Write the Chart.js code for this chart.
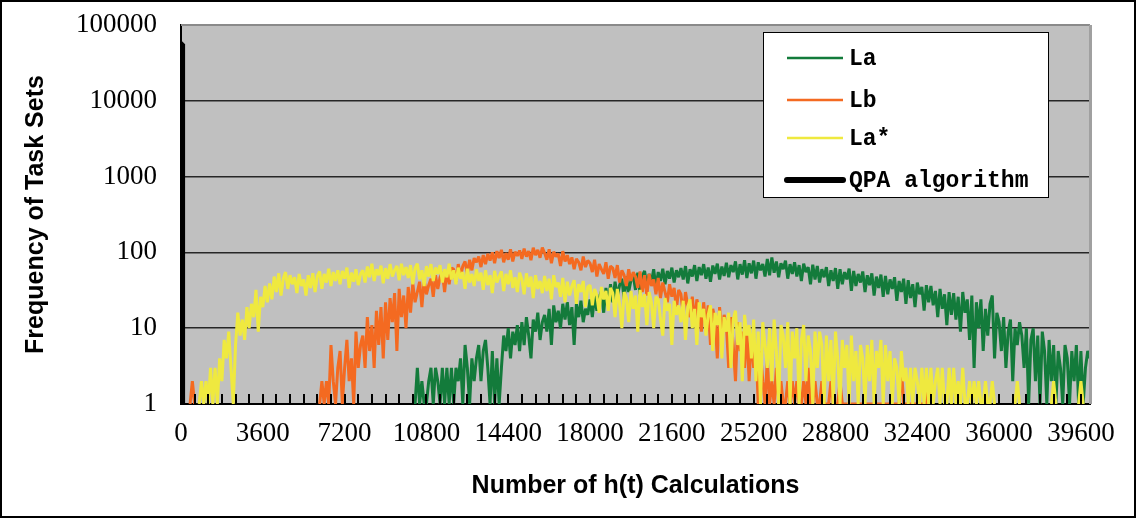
<!DOCTYPE html>
<html>
<head>
<meta charset="utf-8">
<script src="https://cdn.jsdelivr.net/npm/chart.js@4.4.0/dist/chart.umd.min.js"></script>
<style>
  html, body { margin: 0; padding: 0; background: #fff; }
  canvas { display: block; }
</style>
</head>
<body>
<canvas id="grafica_ht" width="1137" height="519"></canvas>
<script>
// Number of h(t) calculations (x), one row = 1000 calculations
const calcs = [
  0, 100, 200, 300, 400, 500, 600, 700, 800, 900,
  1000, 1100, 1200, 1300, 1400, 1500, 1600, 1700, 1800, 1900,
  2000, 2100, 2200, 2300, 2400, 2500, 2600, 2700, 2800, 2900,
  3000, 3100, 3200, 3300, 3400, 3500, 3600, 3700, 3800, 3900,
  4000, 4100, 4200, 4300, 4400, 4500, 4600, 4700, 4800, 4900,
  5000, 5100, 5200, 5300, 5400, 5500, 5600, 5700, 5800, 5900,
  6000, 6100, 6200, 6300, 6400, 6500, 6600, 6700, 6800, 6900,
  7000, 7100, 7200, 7300, 7400, 7500, 7600, 7700, 7800, 7900,
  8000, 8100, 8200, 8300, 8400, 8500, 8600, 8700, 8800, 8900,
  9000, 9100, 9200, 9300, 9400, 9500, 9600, 9700, 9800, 9900,
  10000, 10100, 10200, 10300, 10400, 10500, 10600, 10700, 10800, 10900,
  11000, 11100, 11200, 11300, 11400, 11500, 11600, 11700, 11800, 11900,
  12000, 12100, 12200, 12300, 12400, 12500, 12600, 12700, 12800, 12900,
  13000, 13100, 13200, 13300, 13400, 13500, 13600, 13700, 13800, 13900,
  14000, 14100, 14200, 14300, 14400, 14500, 14600, 14700, 14800, 14900,
  15000, 15100, 15200, 15300, 15400, 15500, 15600, 15700, 15800, 15900,
  16000, 16100, 16200, 16300, 16400, 16500, 16600, 16700, 16800, 16900,
  17000, 17100, 17200, 17300, 17400, 17500, 17600, 17700, 17800, 17900,
  18000, 18100, 18200, 18300, 18400, 18500, 18600, 18700, 18800, 18900,
  19000, 19100, 19200, 19300, 19400, 19500, 19600, 19700, 19800, 19900,
  20000, 20100, 20200, 20300, 20400, 20500, 20600, 20700, 20800, 20900,
  21000, 21100, 21200, 21300, 21400, 21500, 21600, 21700, 21800, 21900,
  22000, 22100, 22200, 22300, 22400, 22500, 22600, 22700, 22800, 22900,
  23000, 23100, 23200, 23300, 23400, 23500, 23600, 23700, 23800, 23900,
  24000, 24100, 24200, 24300, 24400, 24500, 24600, 24700, 24800, 24900,
  25000, 25100, 25200, 25300, 25400, 25500, 25600, 25700, 25800, 25900,
  26000, 26100, 26200, 26300, 26400, 26500, 26600, 26700, 26800, 26900,
  27000, 27100, 27200, 27300, 27400, 27500, 27600, 27700, 27800, 27900,
  28000, 28100, 28200, 28300, 28400, 28500, 28600, 28700, 28800, 28900,
  29000, 29100, 29200, 29300, 29400, 29500, 29600, 29700, 29800, 29900,
  30000, 30100, 30200, 30300, 30400, 30500, 30600, 30700, 30800, 30900,
  31000, 31100, 31200, 31300, 31400, 31500, 31600, 31700, 31800, 31900,
  32000, 32100, 32200, 32300, 32400, 32500, 32600, 32700, 32800, 32900,
  33000, 33100, 33200, 33300, 33400, 33500, 33600, 33700, 33800, 33900,
  34000, 34100, 34200, 34300, 34400, 34500, 34600, 34700, 34800, 34900,
  35000, 35100, 35200, 35300, 35400, 35500, 35600, 35700, 35800, 35900,
  36000, 36100, 36200, 36300, 36400, 36500, 36600, 36700, 36800, 36900,
  37000, 37100, 37200, 37300, 37400, 37500, 37600, 37700, 37800, 37900,
  38000, 38100, 38200, 38300, 38400, 38500, 38600, 38700, 38800, 38900,
  39000, 39100, 39200, 39300, 39400, 39500, 39600, 39700, 39800, 39900,
  40000
];

// La
const la = [
  null, null, null, null, null, null, null, null, null, null,
  null, null, null, null, null, null, null, null, null, null,
  null, null, null, null, null, null, null, null, null, null,
  null, null, null, null, null, null, null, null, null, null,
  null, null, null, null, null, null, null, null, null, null,
  null, null, null, null, null, null, null, null, null, null,
  null, null, null, null, null, null, null, null, null, null,
  null, null, null, null, null, null, null, null, null, null,
  null, null, null, null, null, null, null, null, null, null,
  null, null, null, null, null, null, null, null, null, null,
  null, null, null, 1, 3, 1, 2, 1, 1, 2,
  3, 1, 3, 2, 1, 3, 1, 3, 1, 3,
  1, 3, 2, 4, 1, 6, 3, 1, 4, 2,
  4, 6, 2, 5, 7, 3, 1, 5, 1, 4,
  1, 3, 8, 5, 10, 4, 9, 6, 11, 5,
  12, 6, 14, 8, 4, 13, 9, 16, 7, 12,
  15, 9, 18, 6, 20, 12, 17, 10, 21, 13,
  22, 11, 19, 6, 21, 14, 23, 12, 18, 15,
  24, 14, 27, 17, 25, 31, 16, 34, 20, 38,
  22, 41, 26, 37, 45, 24, 48, 30, 43, 50,
  32, 54, 28, 49, 57, 36, 52, 40, 60, 34,
  55, 42, 61, 38, 57, 45, 63, 40, 58, 47,
  62, 44, 66, 39, 60, 48, 68, 42, 64, 50,
  70, 45, 63, 41, 67, 52, 71, 44, 65, 49,
  73, 47, 68, 55, 76, 44, 70, 51, 79, 46,
  72, 53, 78, 45, 74, 58, 70, 48, 82, 50,
  86, 54, 76, 47, 72, 60, 78, 45, 70, 52,
  74, 48, 68, 42, 71, 55, 64, 38, 69, 44,
  66, 40, 60, 47, 64, 36, 58, 42, 62, 33,
  60, 38, 55, 44, 61, 31, 57, 36, 52, 40,
  56, 30, 50, 37, 53, 27, 48, 34, 51, 26,
  49, 28, 44, 33, 47, 23, 42, 30, 45, 21,
  43, 25, 38, 19, 40, 28, 35, 17, 37, 22,
  36, 20, 31, 14, 33, 18, 28, 11, 30, 15,
  29, 13, 26, 9, 30, 16, 24, 7, 27, 3,
  22, 10, 24, 5, 18, 8, 21, 27, 4, 16,
  12, 5, 14, 3, 9, 13, 2, 10, 6, 12,
  8, 3, 10, 1, 7, 10, 2, 8, 1, 9,
  5, 1, 7, 2, 6, 1, 5, 3, 1, 6,
  4, 1, 5, 2, 6, 1, 5, 1, 3, 5,
  4
];

// Lb
const lb = [
  null, null, null, null, 1, 2, 1, null, null, null,
  null, null, null, null, null, null, null, null, null, null,
  null, null, null, null, null, null, null, null, null, null,
  null, null, null, null, null, null, null, null, null, null,
  null, null, null, null, null, null, null, null, null, null,
  null, null, null, null, null, null, null, null, null, null,
  null, 1, 2, 1, 2, 1, 6, 2, 1, 3,
  5, 1, 3, 7, 2, 4, 1, 9, 3, 6,
  8, 3, 14, 5, 11, 3, 17, 6, 19, 4,
  22, 7, 25, 12, 29, 5, 33, 14, 27, 10,
  35, 16, 39, 22, 30, 41, 19, 43, 28, 37,
  45, 26, 50, 33, 47, 55, 30, 58, 38, 62,
  60, 41, 70, 48, 66, 76, 52, 80, 58, 84,
  74, 88, 64, 92, 70, 96, 78, 100, 72, 104,
  84, 108, 74, 98, 80, 110, 76, 102, 90, 106,
  82, 112, 88, 104, 79, 115, 92, 108, 85, 116,
  98, 80, 110, 72, 102, 88, 96, 66, 104, 76,
  92, 70, 86, 60, 82, 74, 58, 88, 64, 78,
  72, 55, 80, 48, 70, 60, 52, 74, 45, 66,
  62, 46, 68, 40, 58, 50, 36, 60, 42, 55,
  48, 34, 56, 30, 50, 27, 52, 36, 44, 28,
  46, 25, 40, 30, 22, 38, 26, 34, 18, 32,
  28, 15, 30, 20, 14, 26, 12, 24, 17, 9,
  22, 10, 20, 6, 18, 13, 4, 19, 8, 15,
  11, 3, 14, 6, 2, 12, 5, 9, 3, 10,
  2, 8, 3, 6, 1, 5, 2, 1, 4, 1,
  2, 1, 3, 1, 2, 1, 1, 2, 1, 2,
  1, 2, 1, 1, 2, 1, 3, 1, 1, 2,
  1, 1, 2, 1, 1, 1, 2, 1, 1, 1,
  2, 1, 1, 1, 1, 1, 1, 1, 1, 1,
  1, 1, 1, 1, 1, 1, 1, 1, 1, 1,
  1, 1, 1, 1, 1, 1, 1, 3, 1, 1,
  1, 1, 1, 1, 1, 1, 1, 1, 1, 2,
  1, null, null, null, null, null, null, null, null, null,
  null, null, null, null, null, null, null, null, null, null,
  null, null, null, null, null, null, null, null, null, null,
  null, null, null, null, null, null, null, null, null, null,
  null, null, null, null, null, null, null, null, null, null,
  null, null, null, null, null, null, null, null, null, null,
  null, null, null, null, null, null, null, null, null, null,
  null
];

// La*
const laStar = [
  null, null, null, null, null, null, null, null, 1, 2,
  1, 2, 1, 3, 1, 3, 1, 4, 2, 7,
  4, 9, 3, 1, 6, 16, 8, 13, 7, 19,
  10, 21, 14, 32, 9, 26, 19, 36, 22, 39,
  24, 48, 30, 53, 27, 45, 55, 33, 50, 38,
  47, 29, 52, 36, 44, 27, 50, 34, 53, 30,
  49, 56, 33, 52, 40, 61, 36, 55, 42, 58,
  38, 57, 45, 63, 34, 54, 41, 60, 37, 52,
  58, 40, 65, 47, 71, 42, 60, 50, 67, 39,
  62, 45, 70, 48, 58, 66, 43, 71, 50, 64,
  46, 68, 38, 62, 71, 44, 58, 36, 66, 48,
  70, 42, 63, 52, 68, 40, 60, 47, 71, 44,
  58, 38, 63, 45, 55, 33, 61, 40, 52, 36,
  60, 42, 54, 32, 58, 37, 50, 29, 57, 40,
  48, 56, 31, 52, 38, 58, 34, 47, 30, 54,
  44, 28, 53, 35, 48, 25, 50, 33, 42, 29,
  49, 31, 45, 24, 50, 35, 40, 26, 46, 22,
  41, 27, 36, 43, 21, 38, 30, 42, 19, 35,
  37, 20, 33, 27, 16, 35, 24, 31, 17, 34,
  29, 14, 33, 21, 10, 30, 25, 12, 31, 18,
  27, 9, 32, 19, 28, 11, 30, 22, 10, 26,
  24, 13, 8, 25, 17, 21, 6, 23, 15, 20,
  12, 23, 7, 19, 24, 10, 18, 6, 22, 14,
  18, 8, 15, 20, 5, 16, 11, 17, 4, 14,
  9, 16, 3, 13, 17, 6, 12, 2, 15, 8,
  11, 4, 13, 2, 9, 1, 12, 6, 3, 10,
  2, 13, 5, 1, 11, 8, 3, 12, 1, 9,
  4, 10, 1, 7, 11, 2, 8, 5, 1, 9,
  3, 9, 6, 1, 8, 2, 7, 1, 9, 4,
  1, 7, 3, 6, 1, 8, 2, 5, 1, 6,
  4, 1, 6, 2, 7, 1, 5, 3, 7, 1,
  6, 2, 5, 1, 4, 3, 1, 5, 2, 3,
  1, 3, 1, 3, 2, 1, 3, 1, 3, 1,
  3, 1, 2, 3, 1, 3, 1, 1, 3, 1,
  3, 1, 2, 1, 3, 1, 1, 2, 1, 2,
  1, 2, 1, 1, 2, 1, 1, 2, 1, null,
  null, null, null, null, null, null, null, 1, 2, 1,
  null, null, null, null, null, null, null, null, null, null,
  null, null, null, 1, 2, 1, null, null, null, null,
  null, null, null, null, null, 1, 2, 1, null, null,
  null
];

// QPA algorithm
const qpaCalcs = [0, 60, 70];
const qpa = [56000, 56000, 1];

const xTicks = [0, 3600, 7200, 10800, 14400, 18000, 21600, 25200, 28800, 32400, 36000, 39600];
const yTicks = [1, 10, 100, 1000, 10000, 100000];
const minorStep = 600;

const series = ["La", "Lb", "La*", "QPA algorithm"];
const colores = ["#137b3b", "#f46a21", "#efe93f", "#000000"];

function puntos(xs, ys) {
  return xs.map((x, i) => ({ x: x, y: ys[i] }));
}

const fondo = {
  id: "fondo",
  beforeDraw(chart) {
    const { ctx, chartArea: a } = chart;
    ctx.save();
    ctx.fillStyle = "#ffffff";
    ctx.fillRect(0, 0, chart.width, chart.height);
    ctx.fillStyle = "#c0c0c0";
    ctx.fillRect(a.left, a.top, a.right - a.left, a.bottom - a.top);
    ctx.restore();
  },
  afterDraw(chart) {
    const c = chart.ctx;
    const a = chart.chartArea;
    const sx = chart.scales.x;
    c.save();
    // small tick marks inside the plot along the x axis
    c.fillStyle = "#000000";
    for (let v = minorStep; v < sx.max; v += minorStep) {
      const px = Math.round(sx.getPixelForValue(v));
      c.fillRect(px - 1, a.bottom - 10, 2, 10);
    }
    // top and right edge of the plot
    c.fillStyle = "#8a8a8a";
    c.fillRect(a.left, a.top - 1, a.right - a.left, 2);
    c.fillStyle = "#a0a0a0";
    c.fillRect(a.right - 1, a.top, 3, a.bottom - a.top);
    // legend
    const bx = a.right - 327, by = a.top + 7, bw = 285, bh = 165;
    c.fillStyle = "#fff";
    c.fillRect(bx, by, bw, bh);
    c.strokeStyle = "#000";
    c.lineWidth = 1;
    c.strokeRect(bx + 0.5, by + 0.5, bw, bh);
    const filas = [26, 68, 106, 148];
    c.font = "bold 23px 'Liberation Mono'";
    c.textBaseline = "middle";
    c.textAlign = "left";
    series.forEach((s, i) => {
      const y = by + filas[i];
      c.strokeStyle = colores[i];
      c.lineWidth = i === 3 ? 6 : 2.5;
      c.lineCap = i === 3 ? "round" : "butt";
      c.beginPath();
      c.moveTo(bx + 24, y);
      c.lineTo(bx + 80, y);
      c.stroke();
      c.fillStyle = "#000";
      c.fillText(s, bx + 86, y + 1);
    });
    // outer frame
    c.strokeStyle = "#000";
    c.lineWidth = 2;
    c.lineCap = "butt";
    c.strokeRect(1, 1, chart.width - 3, chart.height - 3);
    c.restore();
  }
};

const lineaBase = {
  pointRadius: 0,
  tension: 0,
  fill: false,
  spanGaps: false,
  borderJoinStyle: "bevel"
};

const grafica = document.getElementById("grafica_ht");
const myChart = new Chart(grafica, {
  type: "line",
  data: {
    datasets: [
      { ...lineaBase, label: series[0], data: puntos(calcs, la), borderColor: colores[0], borderWidth: 3, order: 3 },
      { ...lineaBase, label: series[1], data: puntos(calcs, lb), borderColor: colores[1], borderWidth: 3, order: 2 },
      { ...lineaBase, label: series[2], data: puntos(calcs, laStar), borderColor: colores[2], borderWidth: 3, order: 1 },
      { ...lineaBase, label: series[3], data: puntos(qpaCalcs, qpa), borderColor: colores[3], borderWidth: 5, order: 0 }
    ]
  },
  plugins: [fondo],
  options: {
    responsive: false,
    animation: false,
    devicePixelRatio: 1,
    layout: { padding: { left: 0, right: 47, top: 25, bottom: 0 } },
    plugins: {
      legend: { display: false },
      tooltip: { enabled: false }
    },
    scales: {
      x: {
        type: "linear",
        min: 0,
        max: 40000,
        afterBuildTicks: (s) => { s.ticks = xTicks.map((v) => ({ value: v })); },
        afterFit: (s) => { s.height = 115; },
        ticks: {
          color: "#000",
          font: { family: "Liberation Serif", size: 27 },
          padding: 14,
          maxRotation: 0,
          autoSkip: false,
          callback: (v) => String(v)
        },
        grid: { display: false, drawTicks: false },
        border: { color: "#000", width: 2 },
        title: {
          display: true,
          text: "Number of h(t) Calculations",
          color: "#000",
          font: { family: "Liberation Sans", size: 25, weight: "bold" },
          padding: { top: 0, bottom: 18 }
        }
      },
      y: {
        type: "logarithmic",
        min: 1,
        max: 100000,
        afterBuildTicks: (s) => { s.ticks = yTicks.map((v) => ({ value: v })); },
        afterFit: (s) => { s.width = 181; s.paddingTop = 0; s.paddingBottom = 0; },
        ticks: {
          color: "#000",
          font: { family: "Liberation Serif", size: 27 },
          padding: 24,
          callback: (v) => String(v)
        },
        grid: {
          drawTicks: false,
          lineWidth: 1.5,
          color: (c) => (c.tick && c.tick.value === 100000 ? "#8a8a8a" : "#262626")
        },
        border: { color: "#000", width: 2 },
        title: {
          display: true,
          text: "Frequency of Task Sets",
          color: "#000",
          font: { family: "Liberation Sans", size: 25, weight: "bold" },
          padding: { top: 21, bottom: 0 }
        }
      }
    }
  }
});
</script>
</body>
</html>
